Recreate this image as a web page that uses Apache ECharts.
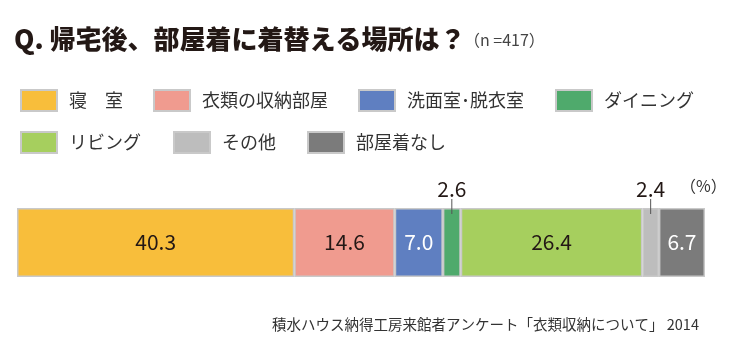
<!DOCTYPE html>
<html>
<head>
<meta charset="utf-8">
<script src="https://cdn.jsdelivr.net/npm/echarts@6/dist/echarts.min.js"></script>
<style>html,body{margin:0;padding:0;background:#fff;}#c{width:735px;height:364px;}</style>
</head>
<body>
<div id="c"></div>
<script>
// ---- data ----
const titleText = 'Q. 帰宅後、部屋着に着替える場所は？';
const sampleText = '（n =417）';
const sourceText = '積水ハウス納得工房来館者アンケート「衣類収納について」 2014';
const unitText = '（%）';
const categories = ['寝　室', '衣類の収納部屋', '洗面室･脱衣室', 'ダイニング', 'リビング', 'その他', '部屋着なし'];
const values = [40.3, 14.6, 7.0, 2.6, 26.4, 2.4, 6.7];
const outsideLabel = [false, false, false, true, false, true, false];

// ---- styles ----
const colors = ['#f8be3b', '#f09b8f', '#5f7fc1', '#4faa6c', '#a6cf5e', '#bdbdbd', '#7b7b7b'];
const labelColors = ['#231815', '#231815', '#ffffff', '#231815', '#231815', '#231815', '#ffffff'];
const legendPos = [[20, 89], [153, 89], [358, 89], [555, 89], [20, 131], [173, 131], [307, 131]];
const jp = "'Noto Sans CJK JP', sans-serif";
const num = "'Liberation Sans Narrow', 'Noto Sans CJK JP', sans-serif";

const chart = echarts.init(document.getElementById('c'), null, {renderer: 'canvas'});

const legends = categories.map((name, i) => ({
  data: [name],
  left: legendPos[i][0],
  top: legendPos[i][1],
  padding: 0,
  itemWidth: 36,
  itemHeight: 21,
  icon: 'rect',
  selectedMode: false,
  textStyle: {fontFamily: jp, fontSize: 18, color: '#333', padding: [0, 0, 0, 7]}
}));

const series = categories.map((name, i) => ({
  name: name,
  type: 'bar',
  stack: 'total',
  barWidth: 69,
  data: [values[i]],
  itemStyle: {color: colors[i], borderColor: '#c9c9c9', borderWidth: 1.5},
  emphasis: {disabled: true},
  label: outsideLabel[i] ? {
    show: true,
    position: 'top',
    distance: -6,
    align: 'center',
    formatter: (p) => '{v|' + p.value.toFixed(1) + '}\n{l|}',
    rich: {
      v: {fontFamily: num, fontSize: 21, color: '#231815', lineHeight: 20, align: 'center'},
      l: {width: 1, height: 15, lineHeight: 15, backgroundColor: '#555', align: 'center'}
    }
  } : {
    show: true,
    position: 'inside',
    fontFamily: num,
    fontSize: 21,
    color: labelColors[i],
    formatter: (p) => p.value.toFixed(1)
  }
}));

chart.setOption({
  animation: false,
  title: [
    {text: titleText, left: 14, top: 26, padding: 0,
     textStyle: {fontFamily: jp, fontSize: 26, fontWeight: 900, color: '#231815'}},
    {text: sampleText, left: 464, top: 32, padding: 0,
     textStyle: {fontFamily: jp, fontSize: 16, fontWeight: 'normal', color: '#444'}},
    {text: unitText, left: 680, top: 178, padding: 0,
     textStyle: {fontFamily: jp, fontSize: 16, fontWeight: 'normal', color: '#333'}},
    {text: sourceText, left: 272, top: 317, padding: 0,
     textStyle: {fontFamily: jp, fontSize: 14.5, fontWeight: 'normal', color: '#333'}}
  ],
  legend: legends,
  grid: {left: 17, right: 30, top: 208, height: 69, containLabel: false},
  xAxis: {type: 'value', min: 0, max: 100, show: false},
  yAxis: {type: 'category', data: ['all'], show: false},
  series: series
});
</script>
</body>
</html>
